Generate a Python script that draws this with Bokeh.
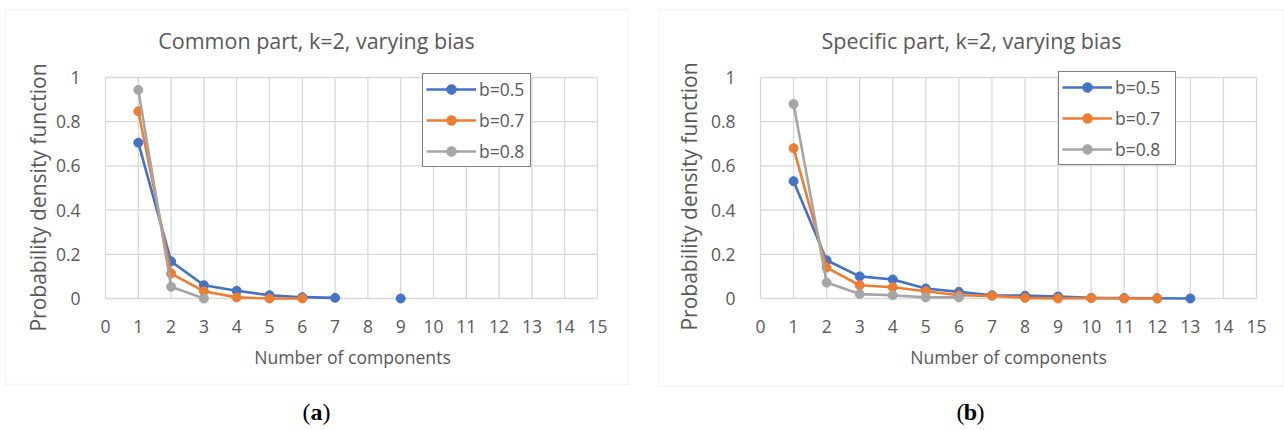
import math
from bokeh.plotting import figure
from bokeh.models import Range1d, Legend, LegendItem, Label, BoxAnnotation, FixedTicker
from bokeh.layouts import row
from bokeh.embed import file_html
from bokeh.resources import INLINE

nan = float("nan")

# ---------------- data ----------------
series_labels = ["b=0.5", "b=0.7", "b=0.8"]
series_colors = ["#4472C4", "#ED7D31", "#A5A5A5"]

# (a) Common part, k=2, varying bias
common_x_b05 = [1, 2, 3, 4, 5, 6, 7, 8, 9]
common_y_b05 = [0.705, 0.168, 0.060, 0.035, 0.015, 0.006, 0.003, nan, 0.0]
common_x_b07 = [1, 2, 3, 4, 5, 6]
common_y_b07 = [0.847, 0.113, 0.033, 0.005, 0.0, 0.0]
common_x_b08 = [1, 2, 3]
common_y_b08 = [0.944, 0.053, 0.0]

# (b) Specific part, k=2, varying bias
specific_x_b05 = [1, 2, 3, 4, 5, 6, 7, 8, 9, 10, 11, 12, 13]
specific_y_b05 = [0.531, 0.173, 0.100, 0.086, 0.045, 0.030, 0.015, 0.013, 0.009, 0.003, 0.002, 0.001, 0.0]
specific_x_b07 = [1, 2, 3, 4, 5, 6, 7, 8, 9, 10, 11, 12]
specific_y_b07 = [0.680, 0.140, 0.060, 0.051, 0.033, 0.015, 0.012, 0.003, 0.0, 0.002, 0.0, 0.0]
specific_x_b08 = [1, 2, 3, 4, 5, 6]
specific_y_b08 = [0.880, 0.072, 0.020, 0.015, 0.005, 0.005]

x_ticks = list(range(0, 16))
y_ticks = [0, 0.2, 0.4, 0.6, 0.8, 1]
y_tick_labels = ["0", "0.2", "0.4", "0.6", "0.8", "1"]

titles = ["Common part, k=2, varying bias", "Specific part, k=2, varying bias"]
panel_letters = ["a", "b"]
x_title = "Number of components"
y_title = "Probability density function"

TEXT = "#595959"
GRID = "#d9d9d9"
FONT = "Open Sans"
SERIF = "Liberation Serif"
W, H = 642, 430


def span_range(p0, p1, v0, v1, size):
    """Range whose values v0/v1 land on pixels p0/p1 of a frame `size` px long."""
    scale = (p1 - p0) / (v1 - v0)
    start = v0 - p0 / scale
    return Range1d(start, start + size / scale)


def text_label(x, y, text, size, font=FONT, color=TEXT, align="center", style="normal", angle=0.0):
    return Label(x=x, y=H - y, x_units="screen", y_units="screen", text=text,
                 text_align=align, text_baseline="middle", angle=angle,
                 text_font=font, text_font_size=size, text_font_style=style, text_color=color)


def make_panel(xs, ys, title, letter, x0px, x15px, title_cx, letter_cx, box,
               legend_loc, label_w, xt_pos, yt_pos):
    # frame covers the whole figure; the data area sits inside it
    p = figure(width=W, height=H,
               x_range=span_range(x0px, x15px, 0, 15, W),
               y_range=span_range(H - 298, H - 77, 0, 1, H),
               min_border=0, min_border_left=0, min_border_right=0,
               min_border_top=0, min_border_bottom=0,
               output_backend="svg", toolbar_location=None)
    p.outline_line_color = None
    p.background_fill_color = "white"
    p.border_fill_color = "white"
    p.grid.visible = False

    # chart-area border
    bl, br, bt, bb = box
    p.add_layout(BoxAnnotation(left=bl, right=br, top=H - bt, bottom=H - bb,
                               left_units="screen", right_units="screen",
                               top_units="screen", bottom_units="screen",
                               fill_color=None, line_color=GRID, line_width=1.3,
                               level="underlay"))

    # gridlines (Excel style: stop at data bounds)
    p.segment(x0=[x_ticks[0]] * len(y_ticks), y0=y_ticks, x1=[x_ticks[-1]] * len(y_ticks), y1=y_ticks,
              line_color=GRID, line_width=1.3)
    p.segment(x0=x_ticks, y0=[y_ticks[0]] * len(x_ticks), x1=x_ticks, y1=[y_ticks[-1]] * len(x_ticks),
              line_color=GRID, line_width=1.3)

    items = []
    for x, y, lab, col in zip(xs, ys, series_labels, series_colors):
        lr = p.line(x, y, line_color=col, line_width=2.6)
        sr = p.scatter(x, y, marker="circle", size=9, fill_color=col, line_color=col)
        items.append(LegendItem(label=lab, renderers=[lr, sr]))

    legend = Legend(items=items, location=legend_loc,
                    border_line_color="black", border_line_width=1.5,
                    background_fill_color="white", background_fill_alpha=1,
                    label_text_font=FONT, label_text_font_size="17.5px", label_text_color=TEXT,
                    padding=3, spacing=7, glyph_height=24, label_height=24,
                    glyph_width=50, label_standoff=3, label_width=label_w, margin=0)
    p.add_layout(legend, "center")

    for ax in (p.xaxis, p.yaxis):
        ax.axis_line_color = None
        ax.major_tick_line_color = None
        ax.minor_tick_line_color = None
        ax.major_label_text_font = FONT
        ax.major_label_text_font_size = "17.5px"
        ax.major_label_text_color = TEXT

    p.xaxis.fixed_location = y_ticks[0]
    p.yaxis.fixed_location = x_ticks[0]
    p.xaxis.ticker = FixedTicker(ticks=x_ticks)
    p.yaxis.ticker = FixedTicker(ticks=y_ticks)
    p.yaxis.major_label_overrides = {t: s for t, s in zip(y_ticks, y_tick_labels)}
    p.xaxis.major_label_standoff = 15
    p.yaxis.major_label_standoff = 19

    # axis titles (placed relative to the chart area, as in Excel)
    p.add_layout(text_label(xt_pos[0], xt_pos[1], x_title, "17.6px"))
    p.add_layout(text_label(yt_pos[0], yt_pos[1], y_title, "21px", angle=math.pi / 2))

    # chart title
    p.add_layout(text_label(title_cx, 40, title, "21.5px"))

    # panel letter "(a)" / "(b)"
    p.add_layout(text_label(letter_cx - 6, 411, "(", "24px", font=SERIF, color="black", align="right"))
    p.add_layout(text_label(letter_cx, 411, letter, "24px", font=SERIF, color="black", style="bold"))
    p.add_layout(text_label(letter_cx + 6, 411, ")", "24px", font=SERIF, color="black", align="left"))
    return p


p1 = make_panel([common_x_b05, common_x_b07, common_x_b08],
                [common_y_b05, common_y_b07, common_y_b08],
                titles[0], panel_letters[0], x0px=105, x15px=597,
                title_cx=316, letter_cx=316, box=(5, 628, 9, 384),
                legend_loc=(422, H - 167), label_w=48,
                xt_pos=(352, 356), yt_pos=(37, 197))
p2 = make_panel([specific_x_b05, specific_x_b07, specific_x_b08],
                [specific_y_b05, specific_y_b07, specific_y_b08],
                titles[1], panel_letters[1], x0px=118, x15px=614,
                title_cx=329, letter_cx=328, box=(16, 641, 9, 386),
                legend_loc=(416, H - 165), label_w=57,
                xt_pos=(366, 356), yt_pos=(46, 196))

layout = row(p1, p2, spacing=0)
open("out.html", "w").write(file_html(layout, INLINE))
